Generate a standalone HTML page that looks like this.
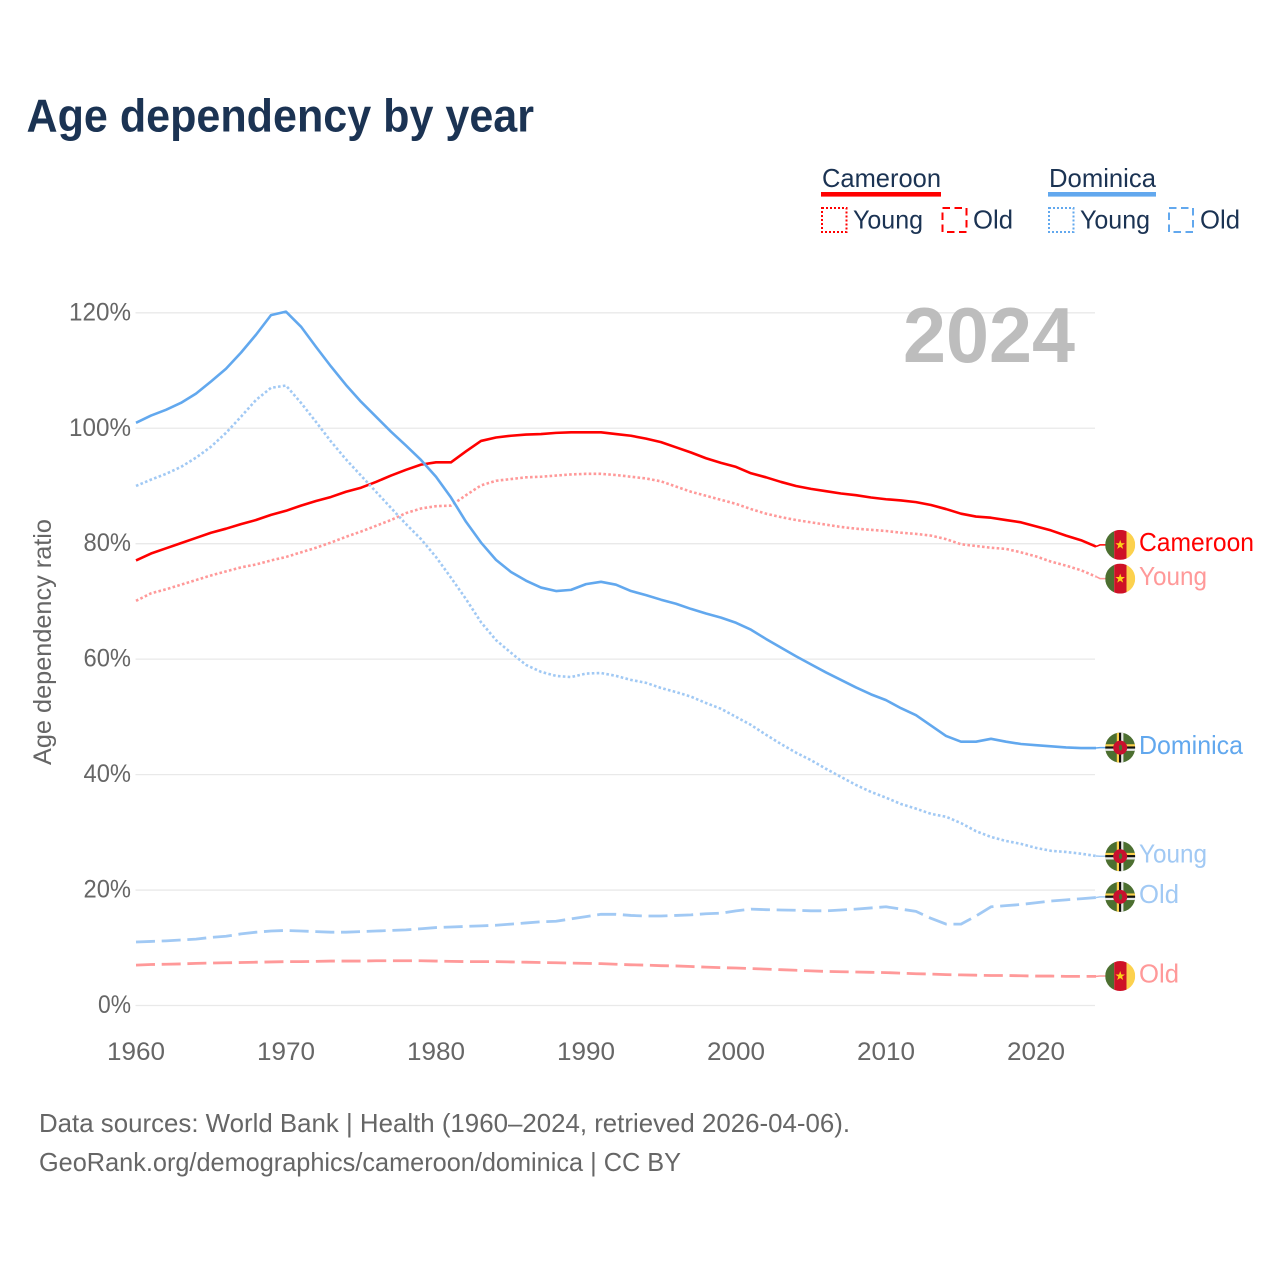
<!DOCTYPE html>
<html lang="en">
<head>
<meta charset="utf-8">
<title>Age dependency by year</title>
<style>
html,body{margin:0;padding:0;background:#fff;}
svg{display:block;}
text{font-family:"Liberation Sans",sans-serif;}
</style>
</head>
<body>
<svg id="chart" width="1280" height="1280" viewBox="0 0 1280 1280" xmlns="http://www.w3.org/2000/svg">
  <defs>
    <clipPath id="flag-clip"><circle cx="0" cy="0" r="15"></circle></clipPath>
  </defs>
  <rect x="0" y="0" width="1280" height="1280" fill="#ffffff"></rect>

  <text x="26.5" y="131.5" font-size="46" font-weight="700" fill="#1b3353" textLength="507.5" lengthAdjust="spacingAndGlyphs">Age dependency by year</text>

  <g>
    <text x="822" y="187" font-size="26" fill="#1b3353" textLength="119" lengthAdjust="spacingAndGlyphs">Cameroon</text>
    <rect x="821" y="192" width="120" height="4.6" fill="#ff0000"></rect>
    <rect x="822" y="208" width="24.5" height="24" fill="none" stroke="#ff0000" stroke-width="2" stroke-dasharray="2 2"></rect>
    <text x="853" y="228.5" font-size="26" fill="#1b3353" textLength="70" lengthAdjust="spacingAndGlyphs">Young</text>
    <rect x="942.5" y="208" width="24" height="24" fill="none" stroke="#ff0000" stroke-width="2" stroke-dasharray="7.5 4.5"></rect>
    <text x="973" y="228.5" font-size="26" fill="#1b3353" textLength="40" lengthAdjust="spacingAndGlyphs">Old</text>

    <text x="1049" y="187" font-size="26" fill="#1b3353" textLength="107" lengthAdjust="spacingAndGlyphs">Dominica</text>
    <rect x="1048" y="192" width="108" height="4.6" fill="#62a8ee"></rect>
    <rect x="1049" y="208" width="24.5" height="24" fill="none" stroke="#62a8ee" stroke-width="2" stroke-dasharray="2 2"></rect>
    <text x="1080" y="228.5" font-size="26" fill="#1b3353" textLength="70" lengthAdjust="spacingAndGlyphs">Young</text>
    <rect x="1169" y="208" width="24" height="24" fill="none" stroke="#62a8ee" stroke-width="2" stroke-dasharray="7.5 4.5"></rect>
    <text x="1200" y="228.5" font-size="26" fill="#1b3353" textLength="40" lengthAdjust="spacingAndGlyphs">Old</text>
  </g>

  <text transform="translate(51,642) rotate(-90)" text-anchor="middle" font-size="25" fill="#666666" textLength="246" lengthAdjust="spacingAndGlyphs">Age dependency ratio</text>

  <g id="grid-layer"></g>
  <g id="axis-layer"></g>

  <text x="903" y="362" font-size="78" font-weight="700" fill="#bdbdbd" textLength="172" lengthAdjust="spacingAndGlyphs">2024</text>

  <g id="series-layer"></g>

  <text x="39" y="1132" font-size="26" fill="#666666" textLength="811" lengthAdjust="spacingAndGlyphs">Data sources: World Bank | Health (1960–2024, retrieved 2026-04-06).</text>
  <text x="39" y="1171" font-size="26" fill="#666666" textLength="642" lengthAdjust="spacingAndGlyphs">GeoRank.org/demographics/cameroon/dominica | CC BY</text>
</svg>

<script>
const startYear = 1960;
const xTicks = [1960, 1970, 1980, 1990, 2000, 2010, 2020];
const yTicks = [0, 20, 40, 60, 80, 100, 120];

const cameroonTotal = [
  77.1,78.3,79.2,80.1,81.0,81.9,82.6,83.4,84.1,85.0,
  85.7,86.6,87.4,88.1,89.0,89.7,90.7,91.8,92.8,93.7,
  94.1,94.1,96.0,97.8,98.4,98.7,98.9,99.0,99.2,99.3,
  99.3,99.3,99.0,98.7,98.2,97.6,96.7,95.8,94.8,94.0,
  93.3,92.2,91.5,90.7,90.0,89.5,89.1,88.7,88.4,88.0,
  87.7,87.5,87.2,86.7,86.0,85.2,84.7,84.5,84.1,83.7,
  83.0,82.3,81.4,80.6,79.5
];
const cameroonYoung = [
  70.1,71.4,72.1,72.9,73.7,74.5,75.2,75.9,76.4,77.1,
  77.7,78.5,79.3,80.2,81.2,82.1,83.1,84.1,85.3,86.1,
  86.5,86.6,88.4,90.1,90.9,91.2,91.5,91.6,91.8,92.0,
  92.1,92.1,91.9,91.6,91.3,90.8,89.9,89.0,88.3,87.6,
  86.9,86.0,85.2,84.6,84.1,83.7,83.3,82.9,82.6,82.4,
  82.2,81.9,81.7,81.4,80.8,79.9,79.6,79.3,79.1,78.5,
  77.8,76.9,76.2,75.4,74.3
];
const cameroonOld = [
  7.0,7.1,7.15,7.2,7.3,7.35,7.4,7.45,7.5,7.55,
  7.6,7.6,7.65,7.7,7.7,7.7,7.75,7.75,7.75,7.75,
  7.7,7.65,7.6,7.6,7.6,7.55,7.5,7.45,7.4,7.35,
  7.3,7.25,7.15,7.05,7.0,6.9,6.85,6.75,6.65,6.55,
  6.5,6.4,6.3,6.2,6.1,6.0,5.9,5.85,5.8,5.75,
  5.7,5.6,5.5,5.45,5.35,5.3,5.25,5.2,5.2,5.15,
  5.1,5.1,5.05,5.05,5.05
];
const dominicaTotal = [
  100.95,102.2,103.2,104.4,106.0,108.1,110.3,113.1,116.2,119.6,
  120.2,117.6,114.1,110.7,107.5,104.6,102.0,99.4,97.0,94.5,
  91.6,88.0,83.8,80.2,77.2,75.1,73.6,72.4,71.8,72.0,
  73.0,73.4,72.9,71.8,71.1,70.3,69.6,68.7,67.9,67.2,
  66.3,65.1,63.5,62.0,60.5,59.1,57.7,56.4,55.1,53.9,
  52.9,51.5,50.3,48.5,46.7,45.7,45.7,46.2,45.7,45.3,
  45.1,44.9,44.7,44.6,44.6
];
const dominicaYoung = [
  90.0,91.1,92.1,93.3,94.9,96.8,99.2,102.0,104.9,107.0,
  107.4,104.4,101.1,97.7,94.6,91.8,89.0,86.2,83.4,80.8,
  77.7,74.1,70.4,66.4,63.3,61.1,59.0,57.8,57.1,56.9,
  57.5,57.6,57.1,56.4,55.9,55.0,54.3,53.5,52.4,51.4,
  50.0,48.6,46.9,45.3,43.8,42.5,41.0,39.6,38.2,37.0,
  36.0,34.9,34.1,33.2,32.7,31.6,30.2,29.2,28.5,28.0,
  27.3,26.8,26.6,26.3,25.9
];
const dominicaOld = [
  11.0,11.1,11.2,11.35,11.5,11.8,12.0,12.4,12.7,12.9,
  13.0,12.9,12.8,12.7,12.7,12.8,12.9,13.0,13.1,13.3,
  13.5,13.6,13.7,13.8,13.9,14.1,14.3,14.5,14.6,15.0,
  15.4,15.8,15.8,15.6,15.5,15.5,15.6,15.7,15.9,16.0,
  16.4,16.7,16.6,16.55,16.5,16.4,16.4,16.55,16.7,16.9,
  17.1,16.7,16.3,15.1,14.1,14.1,15.5,17.1,17.3,17.5,
  17.8,18.1,18.3,18.5,18.7
];

const NS = 'http://www.w3.org/2000/svg';
const xOf = function (year) { return 136 + (year - startYear) * 15; };
const yOf = function (value) { return 1005.5 - value * 5.7725; };

function make(tag, attrs, parent) {
  const el = document.createElementNS(NS, tag);
  for (const k in attrs) el.setAttribute(k, attrs[k]);
  parent.appendChild(el);
  return el;
}

const gridLayer = document.getElementById('grid-layer');
const axisLayer = document.getElementById('axis-layer');
const seriesLayer = document.getElementById('series-layer');

yTicks.forEach(function (tick) {
  const line = make('line', { x1: 135.5, x2: 1095, y1: yOf(tick), y2: yOf(tick), stroke: '#e9e9e9', 'stroke-width': 1.3 }, gridLayer);
  
  
  const label = make('text', { x: 131, y: yOf(tick) + 7.5, 'text-anchor': 'end', 'font-size': 25, fill: '#666666', textLength: String(tick).length * 14.5 + 18.5, lengthAdjust: 'spacingAndGlyphs' }, axisLayer);
  
  
  label.textContent = tick + '%';
});

xTicks.forEach(function (tick) {
  const label = make('text', { x: xOf(tick), y: 1060, 'text-anchor': 'middle', 'font-size': 25, fill: '#666666', textLength: 58, lengthAdjust: 'spacingAndGlyphs' }, axisLayer);
  
  
  label.textContent = String(tick);
});

function drawCameroonFlag(group) {
  make('rect', { x: -15, y: -15, width: 9, height: 30, fill: '#4c6f30' }, group);
  make('rect', { x: -6, y: -15, width: 12.3, height: 30, fill: '#ce1126' }, group);
  make('rect', { x: 6.3, y: -15, width: 8.7, height: 30, fill: '#fcd14d' }, group);
  make('polygon', { points: '0,-5 1.2,-1.6 4.8,-1.6 1.9,0.6 3,4 0,2 -3,4 -1.9,0.6 -4.8,-1.6 -1.2,-1.6', fill: '#fcd116' }, group);
}

function drawDominicaFlag(group) {
  make('rect', { x: -15, y: -15, width: 30, height: 30, fill: '#4c6f30' }, group);
  make('rect', { x: -15, y: -3.4, width: 30, height: 2.2, fill: '#fcd14d' }, group);
  make('rect', { x: -15, y: -1.2, width: 30, height: 2.2, fill: '#111111' }, group);
  make('rect', { x: -15, y: 1, width: 30, height: 2.2, fill: '#e8e8e8' }, group);
  make('rect', { x: -3.4, y: -15, width: 2.2, height: 30, fill: '#fcd14d' }, group);
  make('rect', { x: -1.2, y: -15, width: 2.2, height: 30, fill: '#111111' }, group);
  make('rect', { x: 1, y: -15, width: 2.2, height: 30, fill: '#e8e8e8' }, group);
  make('circle', { cx: 0, cy: 0, r: 7, fill: '#c8102e' }, group);
  make('ellipse', { cx: 0.3, cy: 0, rx: 1.6, ry: 3, fill: '#4c6f30' }, group);
}

function drawSeries(key, label, values, color, strokeWidth, dash, labelShift, labelWidth, labelColor, flagKind) {
  const group = make('g', {}, seriesLayer);
  
  

  const points = values.map(function (v, i) { return xOf(startYear + i) + ',' + yOf(v); }).join(' ');
  const attrs = { points: points, fill: 'none', stroke: color, 'stroke-width': strokeWidth, 'stroke-linejoin': 'round' };
  if (dash) attrs['stroke-dasharray'] = dash;
  const line = make('polyline', attrs, group);
  
  

  const lastX = xOf(startYear + values.length - 1);
  const lastY = yOf(values[values.length - 1]);
  const labelY = lastY + labelShift;

  const connector = make('polyline', { points: lastX + ',' + lastY + ' ' + (lastX + 4) + ',' + labelY + ' ' + (lastX + 10) + ',' + labelY, fill: 'none', stroke: color, 'stroke-width': 1.5 }, group);
  
  

  const flag = make('g', { transform: 'translate(' + (lastX + 24.2) + ',' + labelY + ')', 'clip-path': 'url(#flag-clip)' }, group);
  
  
  if (flagKind === 'cameroon') drawCameroonFlag(flag); else drawDominicaFlag(flag);

  const text = make('text', { x: lastX + 43, y: labelY + 6.3, 'font-size': 26, fill: labelColor, textLength: labelWidth, lengthAdjust: 'spacingAndGlyphs' }, group);
  
  
  text.textContent = label;
}

drawSeries('cameroon-old', 'Old', cameroonOld, '#ff9999', 2.8, '19 6.7', -0.3, 40, '#ff9999', 'cameroon');
drawSeries('cameroon-young', 'Young', cameroonYoung, '#ff9999', 2.6, '2.6 2.3', 2, 68, '#ff9999', 'cameroon');
drawSeries('cameroon-total', 'Cameroon', cameroonTotal, '#ff0000', 2.6, null, -1.7, 115, '#ff0000', 'cameroon');
drawSeries('dominica-old', 'Old', dominicaOld, '#a1c9f4', 2.8, '19 6.7', -0.7, 40, '#a1c9f4', 'dominica');
drawSeries('dominica-young', 'Young', dominicaYoung, '#a1c9f4', 2.6, '2.6 2.3', 0.3, 68, '#a1c9f4', 'dominica');
drawSeries('dominica-total', 'Dominica', dominicaTotal, '#62a8ee', 2.6, null, -0.4, 104, '#62a8ee', 'dominica');
</script>
</body>
</html>
